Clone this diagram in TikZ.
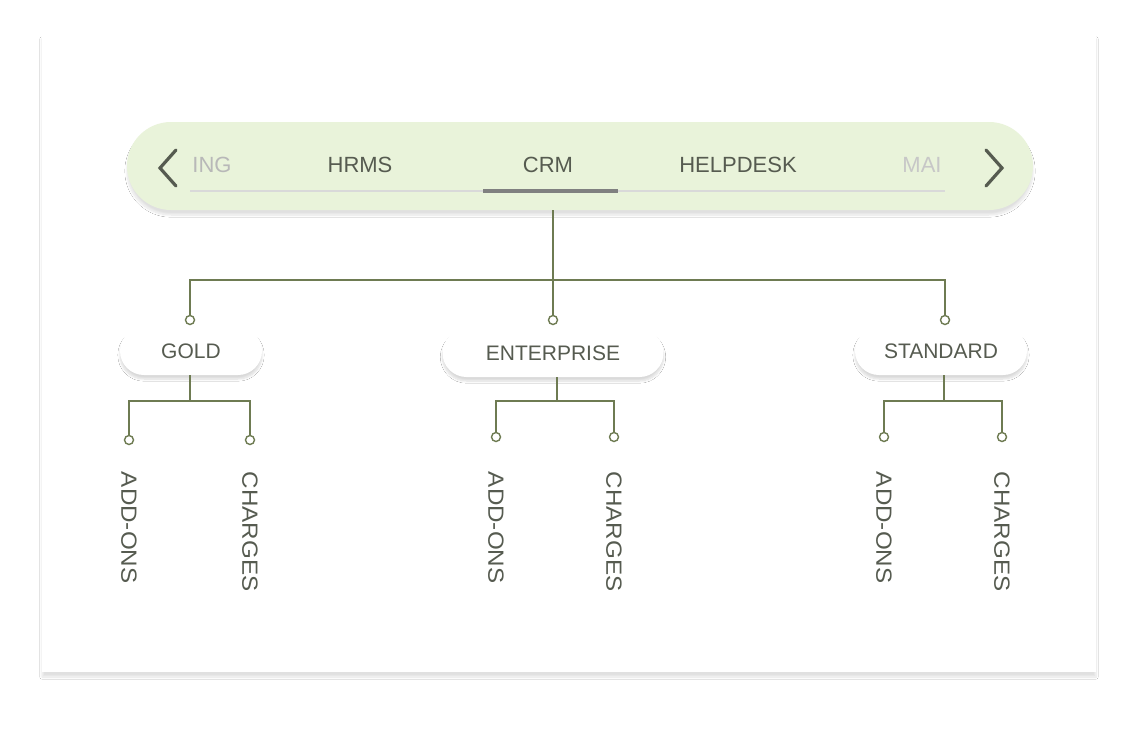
\documentclass[tikz,border=0pt]{standalone}
\usepackage{fontspec}
\setmainfont{Liberation Sans}
\usetikzlibrary{shadows.blur}
\definecolor{olive}{HTML}{6E7B52}
\definecolor{txt}{HTML}{565B50}
\definecolor{pill}{HTML}{E9F3DA}
\tikzset{
  x=1pt,y=-1pt,
  conn/.style={draw=olive,line width=1.8pt},
  dot/.style={circle,draw=olive,line width=1.4pt,fill=white,minimum size=9pt,inner sep=0pt},
  plan/.style={rounded corners=24pt,fill=white,text=txt,font=\fontsize{21}{22}\selectfont,minimum height=48pt,blur shadow={shadow xshift=0pt,shadow yshift=-4pt,shadow blur steps=10,shadow opacity=15}},
  tab/.style={text=txt,font=\fontsize{22}{24}\selectfont},
  leaf/.style={text=txt,font=\fontsize{22}{24}\selectfont,rotate=-90,anchor=west,xscale=1.1}
}
\begin{document}
\begin{tikzpicture}
\useasboundingbox (0,0) rectangle (1140,736);
\fill[white] (0,0) rectangle (1140,736);
\node[fill=white,minimum width=1054pt,minimum height=638pt,inner sep=0pt,blur shadow={shadow xshift=0pt,shadow yshift=-5pt,shadow blur steps=12,shadow opacity=12}] (card) at (569,353) {};
\node[fill=pill,rounded corners=44pt,minimum width=906pt,minimum height=88pt,blur shadow={shadow xshift=0pt,shadow yshift=-5pt,shadow blur steps=12,shadow opacity=12}] (bar) at (580,166) {};
\draw[txt,line width=3.2pt,line cap=round] (176,150) -- (160,168) -- (176,186);
\draw[txt,line width=3.2pt,line cap=round] (986,150) -- (1002,168) -- (986,186);
\node[tab,text=black!28] (t0) at (212,165) {ING};
\node[tab] (t1) at (360,165) {HRMS};
\node[tab] (t2) at (548,165) {CRM};
\node[tab] (t3) at (738,165) {HELPDESK};
\node[tab,text=black!22] (t4) at (922,165) {MAI};
\draw[black!15,line width=1.5pt] (190,191) -- (945,191);
\draw[black!50,line width=3.5pt] (483,191) -- (618,191);
\coordinate (top) at (553,210);
\node[plan,minimum width=142pt] (gold) at (191,351) {GOLD};
\node[plan,minimum width=221pt] (ent) at (553,353) {ENTERPRISE};
\node[plan,minimum width=172pt] (std) at (941,351) {STANDARD};
\node[dot] (dg) at (190,320) {};
\node[dot] (de) at (553,320) {};
\node[dot] (ds) at (945,320) {};
\draw[conn] (top) -- (553,280);
\draw[conn] (dg) -- (190,280) -- (945,280) -- (ds);
\draw[conn] (553,280) -- (de);
\foreach \n/\x/\l/\r/\y in {gold/190/129/250/440, ent/557/496/614/437, std/944/884/1002/437}{
  \node[dot] (\n a) at (\l,\y) {};
  \node[dot] (\n b) at (\r,\y) {};
  \draw[conn] (\x,0 |- \n.south) -- (\x,401);
  \draw[conn] (\n a) -- (\l,401) -- (\r,401) -- (\n b);
  \node[leaf] (\n la) at (\l,468) {ADD-ONS};
  \node[leaf] (\n lb) at (\r,468) {CHARGES};
}
\end{tikzpicture}
\end{document}
